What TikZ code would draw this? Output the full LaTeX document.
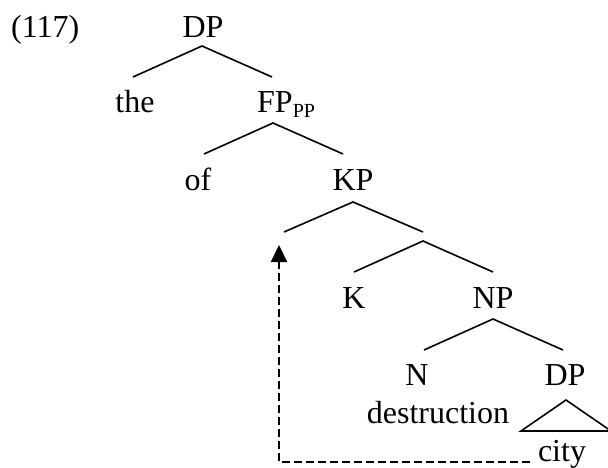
\documentclass[tikz,border=0pt]{standalone}
\usepackage{fontspec}
\setmainfont{Liberation Serif}
\usetikzlibrary{arrows.meta}
\begin{document}
\begin{tikzpicture}[x=1pt,y=-1pt,
  lbl/.style={anchor=base,inner sep=0pt,font=\fontsize{32}{38}\selectfont},
  branch/.style={line width=1.6pt},
  movement/.style={line width=2.3pt,dash pattern=on 8pt off 4pt,
    -{Triangle[length=17pt,width=16pt]}}]
\useasboundingbox (0,0) rectangle (608,468);

% labels
\node[lbl,anchor=base west] (ex) at (11,38) {(117)};
\node[lbl] (dp1) at (203,38) {DP};
\node[lbl] (the) at (135,113) {the};
\node[lbl,anchor=base west] (fp) at (257,113) {FP\raisebox{-5pt}{\fontsize{20}{24}\selectfont PP}};
\node[lbl] (of) at (198,190) {of};
\node[lbl] (kp) at (353,190) {KP};
\node[lbl] (k) at (354,308) {K};
\node[lbl] (np) at (493,308) {NP};
\node[lbl] (n) at (417,385) {N};
\node[lbl] (dp2) at (565,385) {DP};
\node[lbl] (destr) at (438,423) {destruction};
\node[lbl] (city) at (562,461) {city};

% branch points
\coordinate (dp1-b) at (202,46);
\coordinate (the-t) at (133,77);
\coordinate (fp-t) at (272,77);
\coordinate (fp-b) at (273,123);
\coordinate (of-t) at (204,154);
\coordinate (kp-t) at (343,154);
\coordinate (kp-b) at (353,202);
\coordinate (spec-t) at (284,232);
\coordinate (kbar-t) at (423,232);
\coordinate (kbar-b) at (423,241);
\coordinate (k-t) at (354,272);
\coordinate (np-t) at (493,272);
\coordinate (np-b) at (493,319);
\coordinate (n-t) at (424,350);
\coordinate (dp2-t) at (563,350);
\coordinate (tri-top) at (566,400);
\coordinate (tri-l) at (521,431);
\coordinate (tri-r) at (611,431);

\draw[branch] (the-t) -- (dp1-b) -- (fp-t);
\draw[branch] (of-t) -- (fp-b) -- (kp-t);
\draw[branch] (spec-t) -- (kp-b) -- (kbar-t);
\draw[branch] (k-t) -- (kbar-b) -- (np-t);
\draw[branch] (n-t) -- (np-b) -- (dp2-t);
\draw[branch] (tri-l) -- (tri-top) -- (tri-r) -- cycle;

% movement path from city back to the specifier
\coordinate (mv-start) at (530,462);
\coordinate (mv-corner) at (279,462);
\coordinate (mv-end) at (279,245);
\draw[movement] (mv-start) -- (mv-corner) -- (mv-end);
\end{tikzpicture}
\end{document}
